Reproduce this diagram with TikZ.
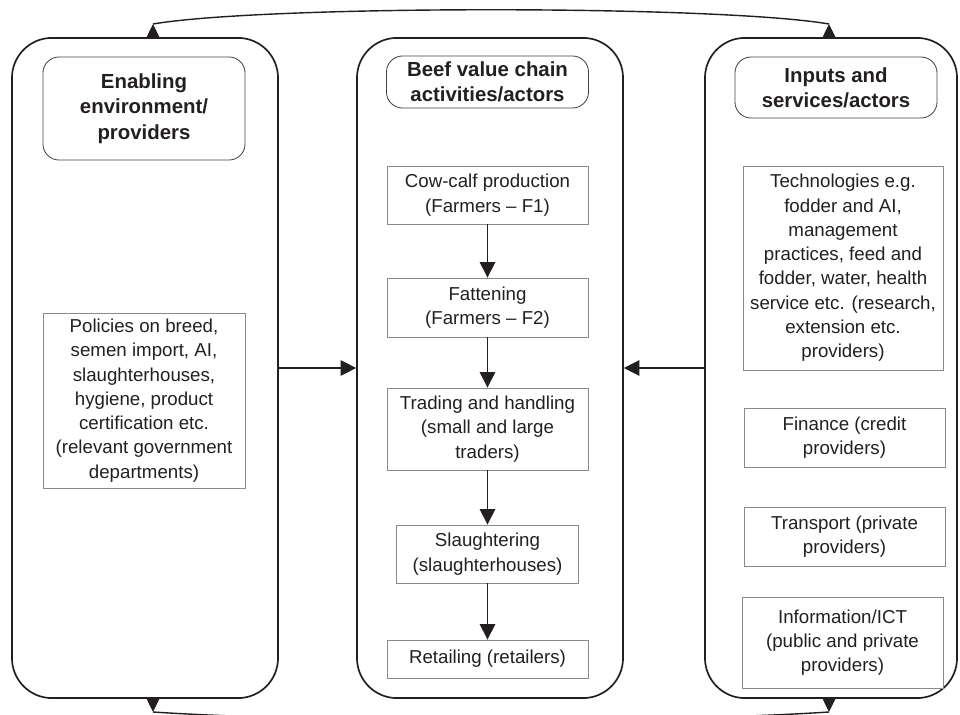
\documentclass[tikz,border=0pt]{standalone}
\usepackage{fontspec}
\setmainfont{Liberation Sans}
\usepackage{tikz}
\usetikzlibrary{positioning,arrows.meta,calc}
\definecolor{ink}{HTML}{231F20}
\definecolor{edge}{HTML}{8A8A8A}
\tikzset{
    container/.style = {
        draw=ink,
        shape=rectangle,
        rounded corners=1cm,
        minimum width=6.65cm,
        minimum height=16.5cm,
        line width=1.2pt
    },
    heading/.style = {
        draw=ink!85,
        shape=rectangle,
        rounded corners=0.4cm,
        minimum width=5.05cm,
        line width=0.6pt,
        align=center,
        text=ink,
        font=\bfseries\fontsize{14.5}{18}\selectfont
    },
    block/.style = {
        draw=edge,
        shape=rectangle,
        minimum width=5.025cm,
        line width=0.6pt,
        align=center,
        text=ink,
        font=\fontsize{13.3}{17.3}\selectfont
    },
    feedback/.style = {
        draw=ink,
        line width=1pt
    },
    >={Triangle[length=11pt,width=11pt]},
}

\begin{document}
\begin{tikzpicture}[x=0.025cm, y=-0.025cm]
    \useasboundingbox (0,0) rectangle (960,715);
    \clip (0,0) rectangle (960,715);

    % the three columns
    \node[container] (env) at (145,368) {};
    \node[container] (chain) at (490,368) {};
    \node[container, minimum width=6.3cm] (inp) at (831,368) {};

    % headings
    \node[heading, minimum height=2.575cm] (envh) at (144,108.5) {Enabling\\environment/\\providers};
    \node[heading, minimum height=1.3cm] (chainh) at (487.5,82) {Beef value chain\\activities/actors};
    \node[heading, minimum height=1.525cm] (inph) at (836,87.5) {Inputs and\\services/actors};

    % value chain
    \node[block, minimum height=1.45cm] (cc) at (487.5,195) {Cow-calf production\\(Farmers – F1)};
    \node[block, minimum height=1.475cm] (fat) at (487.5,307.5) {Fattening\\(Farmers – F2)};
    \node[block, minimum height=2.05cm] (trd) at (487.5,429) {Trading and handling\\(small and large\\traders)};
    \node[block, minimum width=4.55cm, minimum height=1.45cm] (slt) at (487.5,554) {Slaughtering\\(slaughterhouses)};
    \node[block, minimum height=0.95cm] (ret) at (487.5,659) {Retailing (retailers)};

    % enabling environment
    \node[block, minimum width=5.05cm, minimum height=4.375cm] (pol) at (144,400.5) {Policies on breed,\\semen import, AI,\\slaughterhouses,\\hygiene, product\\certification etc.\\(relevant government\\departments)};

    % inputs and services
    \node[block, minimum width=5cm, minimum height=5.1cm] (tech) at (843,268) {Technologies e.g.\\fodder and AI,\\management\\practices, feed and\\fodder, water, health\\service etc. (research,\\extension etc.\\providers)};
    \node[block, minimum height=1.475cm] (fin) at (844.5,437.5) {Finance (credit\\providers)};
    \node[block, minimum height=1.475cm] (trn) at (844.5,536.5) {Transport (private\\providers)};
    \node[block, minimum height=2.275cm] (ict) at (842.5,642.5) {Information/ICT\\(public and private\\providers)};

    \path[draw=ink, line width=1pt, ->] (cc) -- (fat);
    \path[draw=ink, line width=1pt, ->] (fat) -- (trd);
    \path[draw=ink, line width=1pt, ->] (trd) -- (slt);
    \path[draw=ink, line width=1pt, ->] (slt) -- (ret);
    \path[draw=ink, line width=1pt, ->] (env) -- (chain);
    \path[draw=ink, line width=1pt, ->] (inp) -- (chain);

    % links between the outer columns
    \coordinate (ltop) at (153,24);
    \coordinate (rtop) at (829,24);
    \coordinate (lbot) at (153,712);
    \coordinate (rbot) at (829,712);
    \path[feedback, -{Triangle[length=10pt,width=9.5pt]}] (env.north -| ltop) -- (ltop);
    \path[feedback, -{Triangle[length=10pt,width=9.5pt]}] (inp.north -| rtop) -- (rtop);
    \path[feedback, -{Triangle[length=10pt,width=9.5pt]}] (env.south -| lbot) -- (lbot);
    \path[feedback, -{Triangle[length=10pt,width=9.5pt]}] (inp.south -| rbot) -- (rbot);
    \path[feedback] (ltop) .. controls (265,5) and (717,5) .. (rtop);
    \path[feedback] (lbot) .. controls (320,723) and (660,723) .. (rbot);
\end{tikzpicture}
\end{document}
